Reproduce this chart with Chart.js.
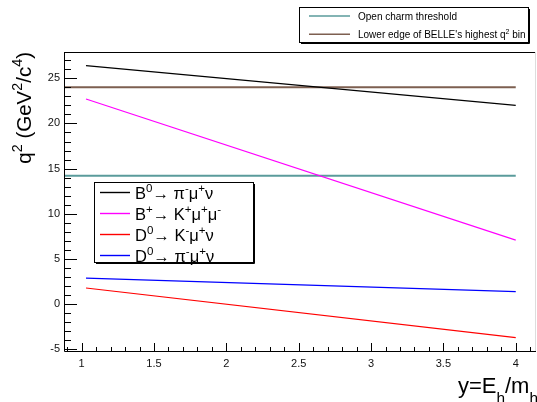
<!DOCTYPE html>
<html>
<head>
<meta charset="utf-8">
<script src="https://cdn.jsdelivr.net/npm/chart.js@4.4.0/dist/chart.umd.min.js"></script>
<style>
  html, body { margin: 0; padding: 0; background: #fff; }
  #wrap { width: 537px; height: 402px; }
</style>
</head>
<body>
<div id="wrap"><canvas id="q2-chart"></canvas></div>
<script>
// y = E_h / m_h at the two ends of each decay curve
const yEnds = [1.03, 4];
const bToPi = [26.4, 22.0];
const bToKmumu = [22.7, 7.1];
const dToK = [1.8, -3.7];
const dToPi = [2.9, 1.4];

// horizontal reference lines
const refEnds = [0.878, 4];
const openCharm = [14.2, 14.2];
const belleEdge = [24.0, 24.0];

const decayLabels = ["B^{0}→ π^{-}μ^{+}ν", "B^{+}→ K^{+}μ^{+}μ^{-}", "D^{0}→ K^{-}μ^{+}ν", "D^{0}→ π^{-}μ^{+}ν"];
const refLabels = ["Open charm threshold", "Lower edge of BELLE's highest q^{2} bin"];
const xTickLabels = ["1", "1.5", "2", "2.5", "3", "3.5", "4"];
const yTickLabels = ["-5", "0", "5", "10", "15", "20", "25"];

const FONT = '"Liberation Sans", Arial, sans-serif';

function pts(xs, ys) {
  return xs.map((x, i) => ({ x: x, y: ys[i] }));
}

// tiny ROOT-latex-ish parser: ^{..} superscript, _{..} subscript
function parseRich(str) {
  const runs = [];
  const re = /([\^_])\{([^}]*)\}/g;
  let last = 0, m;
  while ((m = re.exec(str))) {
    if (m.index > last) runs.push({ t: str.slice(last, m.index), k: 0 });
    runs.push({ t: m[2], k: m[1] === "^" ? 1 : -1 });
    last = re.lastIndex;
  }
  if (last < str.length) runs.push({ t: str.slice(last), k: 0 });
  return runs;
}

function drawRich(ctx, str, x, y, size, align, subDrop) {
  const runs = parseRich(str);
  let w = 0;
  runs.forEach(r => {
    ctx.font = (r.k ? size * 0.7 : size) + "px " + FONT;
    w += ctx.measureText(r.t).width;
  });
  let cx = align === "right" ? x - w : align === "center" ? x - w / 2 : x;
  ctx.textAlign = "left";
  ctx.textBaseline = "alphabetic";
  runs.forEach(r => {
    const s = r.k ? size * 0.7 : size;
    ctx.font = s + "px " + FONT;
    const dy = r.k === 1 ? -size * 0.42 : r.k === -1 ? size * (subDrop || 0.3) : 0;
    ctx.fillText(r.t, cx, y + dy);
    cx += ctx.measureText(r.t).width;
  });
}

const rootFrame = {
  id: "rootFrame",
  afterDraw(chart) {
    const ctx = chart.ctx;
    const a = chart.chartArea;
    const xs = chart.scales.x, ys = chart.scales.y;
    ctx.save();
    ctx.strokeStyle = "#000";
    ctx.lineWidth = 1;
    // frame
    ctx.beginPath();
    ctx.moveTo(a.left + 0.5, a.top + 0.5);
    ctx.lineTo(a.right, a.top + 0.5);
    ctx.moveTo(a.left + 0.5, a.top);
    ctx.lineTo(a.left + 0.5, a.bottom + 0.5);
    ctx.lineTo(a.right, a.bottom + 0.5);
    ctx.stroke();
    ctx.strokeStyle = "#ddd";
    ctx.beginPath();
    ctx.moveTo(a.right - 0.5, a.top);
    ctx.lineTo(a.right - 0.5, a.bottom);
    ctx.stroke();

    // x ticks, pointing inward
    ctx.strokeStyle = "#000";
    ctx.beginPath();
    for (let i = 9; i <= 41; i++) {
      const v = i / 10;
      const px = Math.round(xs.getPixelForValue(v)) + 0.5;
      const len = i % 5 === 0 ? 8 : 4;
      ctx.moveTo(px, a.bottom);
      ctx.lineTo(px, a.bottom - len);
    }
    // y ticks
    for (let v = -5; v <= 27; v++) {
      const py = Math.round(ys.getPixelForValue(v)) + 0.5;
      const len = v % 5 === 0 ? 13 : 7;
      ctx.moveTo(a.left, py);
      ctx.lineTo(a.left + len, py);
    }
    ctx.stroke();

    // axis titles
    ctx.fillStyle = "#000";
    drawRich(ctx, "y=E_{h}/m_{h}", 538, 393, 22, "right", 0.45);
    ctx.save();
    ctx.translate(31, a.top);
    ctx.rotate(-Math.PI / 2);
    drawRich(ctx, "q^{2} (GeV^{2}/c^{4})", 0, 0, 20.5, "right");
    ctx.restore();

    // legends
    const ds = chart.data.datasets;
    function box(x0, y0, x1, y1) {
      ctx.fillStyle = "#fff";
      ctx.fillRect(x0, y0, x1 - x0, y1 - y0);
      ctx.strokeStyle = "#000";
      ctx.lineWidth = 1;
      ctx.strokeRect(x0 + 0.5, y0 + 0.5, x1 - x0, y1 - y0);
      ctx.beginPath();
      ctx.moveTo(x0 + 2, y1 + 1.5);
      ctx.lineTo(x1 + 1.5, y1 + 1.5);
      ctx.lineTo(x1 + 1.5, y0 + 2);
      ctx.stroke();
    }
    box(299, 7, 528, 42);
    [4, 5].forEach((di, i) => {
      const y = 16 + i * 18.3;
      ctx.strokeStyle = ds[di].borderColor;
      ctx.lineWidth = 1.5;
      ctx.beginPath();
      ctx.moveTo(309, y);
      ctx.lineTo(350, y);
      ctx.stroke();
      ctx.fillStyle = "#000";
      drawRich(ctx, ds[di].label, 358, y + 3.5, 10, "left");
    });

    box(94, 182, 253, 262);
    [0, 1, 2, 3].forEach((di, i) => {
      const y = 192.5 + i * 21;
      ctx.strokeStyle = ds[di].borderColor;
      ctx.lineWidth = 1.4;
      ctx.beginPath();
      ctx.moveTo(100, y);
      ctx.lineTo(130, y);
      ctx.stroke();
      ctx.fillStyle = "#000";
      drawRich(ctx, ds[di].label, 135, y + 6, 16.5, "left");
    });
    ctx.restore();
  }
};

function lineSet(label, color, xs, ys, width) {
  return {
    label: label,
    data: pts(xs, ys),
    borderColor: color,
    borderWidth: width,
    pointRadius: 0,
    fill: false,
    tension: 0
  };
}

const data = {
  datasets: [
    lineSet(decayLabels[0], "#000000", yEnds, bToPi, 1.2),
    lineSet(decayLabels[1], "#ff00ff", yEnds, bToKmumu, 1.2),
    lineSet(decayLabels[2], "#ff0000", yEnds, dToK, 1.2),
    lineSet(decayLabels[3], "#0000ff", yEnds, dToPi, 1.2),
    lineSet(refLabels[0], "rgb(90,155,155)", refEnds, openCharm, 2),
    lineSet(refLabels[1], "rgb(125,95,80)", refEnds, belleEdge, 2)
  ]
};

const options = {
  responsive: true,
  maintainAspectRatio: false,
  animation: false,
  layout: { padding: { top: 52, right: 1, left: 0, bottom: 0 } },
  plugins: {
    legend: { display: false },
    tooltip: { enabled: false }
  },
  scales: {
    x: {
      type: "linear",
      min: 0.878,
      max: 4.14,
      grid: { display: false, drawTicks: false },
      border: { display: false },
      afterBuildTicks: s => { s.ticks = xTickLabels.map(v => ({ value: +v })); },
      afterFit: s => { s.height = 51; },
      ticks: {
        padding: 6,
        maxRotation: 0,
        autoSkip: false,
        color: "#111",
        font: { family: FONT, size: 11 },
        callback: v => String(v)
      }
    },
    y: {
      type: "linear",
      min: -5.17,
      max: 27.9,
      grid: { display: false, drawTicks: false },
      border: { display: false },
      afterBuildTicks: s => { s.ticks = yTickLabels.map(v => ({ value: +v })); },
      afterFit: s => { s.width = 64; },
      ticks: {
        padding: 4,
        autoSkip: false,
        color: "#111",
        font: { family: FONT, size: 11 },
        callback: v => String(v)
      }
    }
  }
};

const q2Chart = new Chart(document.getElementById("q2-chart"), {
  type: "line",
  data: data,
  options: options,
  plugins: [rootFrame]
});
</script>
</body>
</html>
